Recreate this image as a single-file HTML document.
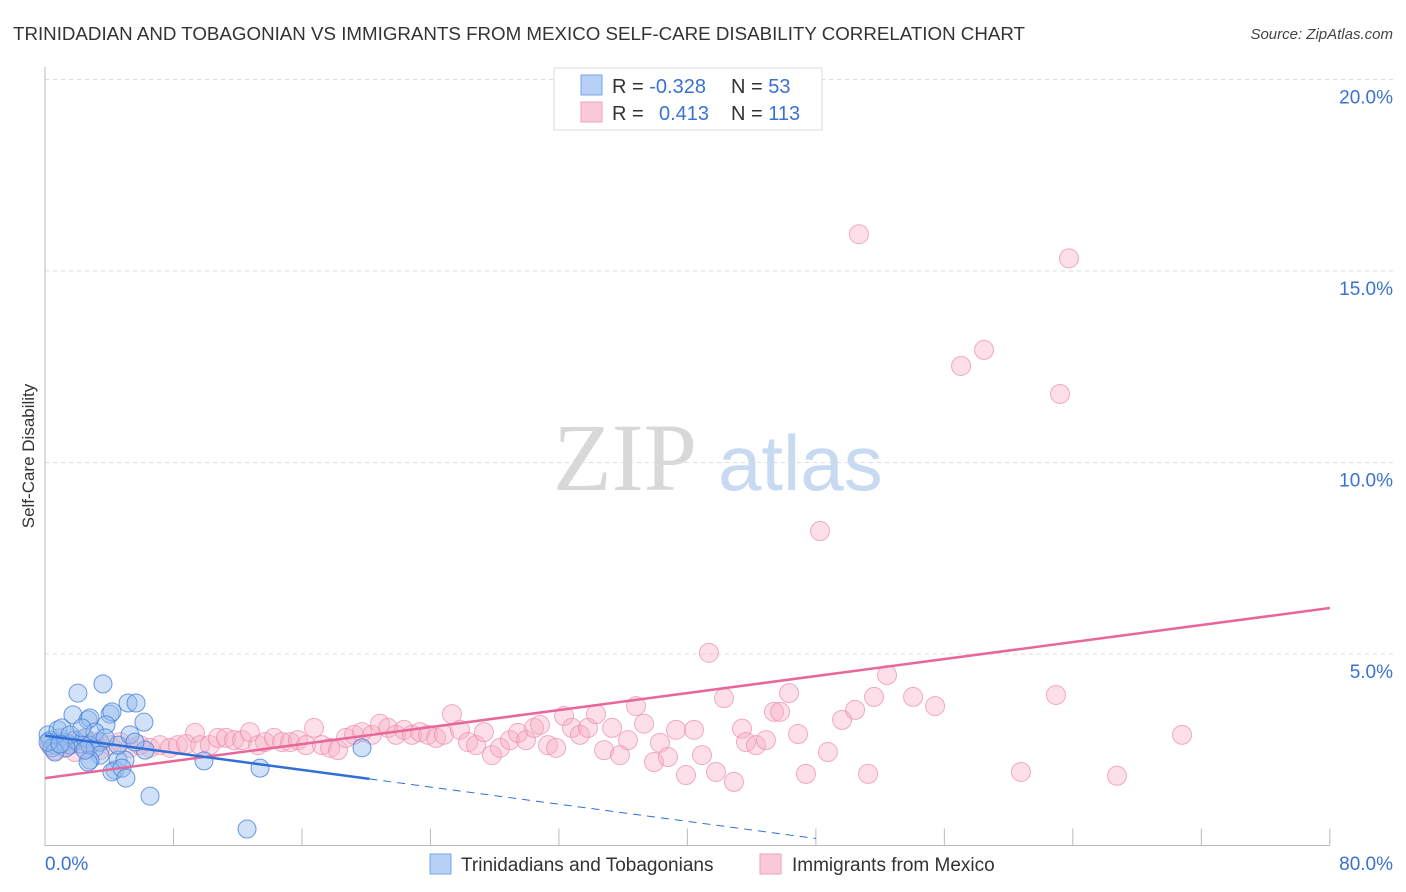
<!DOCTYPE html>
<html><head><meta charset="utf-8"><style>
body{margin:0;background:#fff;font-family:"Liberation Sans",sans-serif;}
svg{display:block}
</style></head><body>
<svg id="chart" width="1406" height="892" xmlns="http://www.w3.org/2000/svg">
<text x="13" y="40" font-size="18" fill="#333" textLength="1012" lengthAdjust="spacingAndGlyphs">TRINIDADIAN AND TOBAGONIAN VS IMMIGRANTS FROM MEXICO SELF-CARE DISABILITY CORRELATION CHART</text>
<text x="1393" y="39" font-size="15" fill="#444" font-style="italic" text-anchor="end">Source: ZipAtlas.com</text>
<g>
<text x="553" y="490" font-family="Liberation Serif,serif" font-size="96" fill="#d8d8d8">ZIP</text>
<text x="718" y="490" font-size="78" fill="#c8daf2">atlas</text>
</g>
<text transform="translate(34,456) rotate(-90)" font-size="17" fill="#333" text-anchor="middle">Self-Care Disability</text>
<g id="grid"></g>
<g id="axes"></g>
<g id="pts"></g>
<g id="lines"></g>
<g>
<rect x="554" y="68" width="268" height="62" fill="#fff" stroke="#ddd"/>
<rect x="581" y="75" width="21" height="20" fill="#b7d0f5" stroke="#7aa6e6"/>
<rect x="581" y="102" width="21" height="20" fill="#fbcad8" stroke="#f0a0b8"/>
<text x="612" y="93" font-size="20" fill="#333">R = <tspan fill="#3b72d0">-0.328</tspan></text>
<text x="731" y="93" font-size="20" fill="#333">N = <tspan fill="#3b72d0"> 53</tspan></text>
<text x="612" y="120" font-size="20" fill="#333">R = <tspan fill="#3b72d0" x="659">0.413</tspan></text>
<text x="731" y="120" font-size="20" fill="#333">N = <tspan fill="#3b72d0">113</tspan></text>
</g>
<g>
<rect x="430" y="854" width="21" height="20" fill="#b7d0f5" stroke="#7aa6e6"/>
<text x="461" y="871" font-size="19" fill="#333">Trinidadians and Tobagonians</text>
<rect x="760" y="854" width="21" height="20" fill="#fbcad8" stroke="#f0a0b8"/>
<text x="792" y="871" font-size="19" fill="#333">Immigrants from Mexico</text>
</g>
</svg>
<script>
const yTicks=[5,10,15,20];
const yTickLabels=["5.0%","10.0%","15.0%","20.0%"];
const xTickVals=[0,8,16,24,32,40,48,56,64,72,80];
const xEndLabels=["0.0%","80.0%"];
const blueX=[0.31,0.62,0.93,0.19,0.44,1.25,1.56,1.87,2.18,2.49,2.80,3.11,3.42,0.81,1.06,1.74,2.05,2.68,2.80,3.61,4.05,4.17,3.80,5.17,5.67,6.16,3.42,2.80,2.68,4.36,4.55,4.98,4.17,4.79,5.04,6.54,4.55,5.29,6.23,9.90,13.39,12.58,19.74,1.56,1.31,3.11,2.30,0.62,0.19,0.93,2.49,3.74,5.60];
const blueY=[2.75,2.62,2.81,2.89,2.55,2.70,2.62,2.75,2.65,2.81,2.62,2.55,2.70,3.02,3.07,3.41,3.98,3.28,3.33,4.22,3.43,3.49,3.15,3.72,3.72,3.22,2.36,2.23,2.18,1.97,2.23,2.23,1.92,2.02,1.76,1.29,2.62,2.89,2.49,2.21,2.02,0.43,2.55,2.89,2.55,2.96,3.07,2.44,2.70,2.65,2.49,2.81,2.70];
const pinkX=[0.31,0.62,0.93,1.25,1.56,1.87,2.18,2.49,2.80,3.11,3.42,4.05,4.67,5.29,5.92,6.54,7.16,7.78,8.28,8.78,9.34,9.65,10.27,10.77,11.27,11.77,12.27,12.76,13.26,13.70,14.26,14.76,15.26,15.75,16.25,16.75,17.25,17.75,18.24,18.74,19.24,19.74,20.36,20.86,21.36,21.86,22.35,22.85,23.35,23.85,24.35,24.84,25.34,25.84,26.34,26.84,27.33,27.83,28.33,28.95,29.45,29.95,30.45,30.82,31.32,31.82,32.32,32.81,33.31,33.81,34.31,34.81,35.31,35.80,36.30,36.80,37.30,37.92,38.29,38.79,39.29,39.91,40.41,40.91,41.34,41.78,42.28,42.90,43.40,43.65,44.27,44.89,45.39,45.77,46.33,46.89,47.38,48.26,48.75,49.63,50.44,50.68,51.25,51.62,52.43,54.05,55.42,57.04,58.47,60.77,62.95,63.20,63.76,66.75,70.80];
const pinkY=[2.62,2.49,2.70,2.55,2.65,2.44,2.75,2.55,2.62,2.70,2.49,2.62,2.70,2.55,2.62,2.55,2.62,2.55,2.62,2.65,2.94,2.62,2.62,2.81,2.81,2.75,2.75,2.96,2.62,2.70,2.81,2.70,2.70,2.75,2.62,3.07,2.62,2.55,2.49,2.81,2.89,2.96,2.89,3.18,3.07,2.89,3.02,2.89,2.96,2.89,2.81,2.89,3.43,3.02,2.70,2.62,2.96,2.36,2.55,2.75,2.94,2.75,3.07,3.15,2.62,2.55,3.38,3.07,2.89,3.07,3.43,2.49,3.07,2.36,2.75,3.64,3.18,2.18,2.68,2.31,3.02,1.84,3.02,2.36,5.03,1.92,3.85,1.66,3.05,2.70,2.62,2.75,3.49,3.49,3.98,2.91,1.87,8.21,2.44,3.28,3.54,15.96,1.87,3.88,4.45,3.88,3.64,12.52,12.94,1.92,3.93,11.79,15.33,1.82,2.89];
const blueTrend=[2.87,-0.056];
const pinkTrend=[1.76,0.0555];
const NS="http://www.w3.org/2000/svg";
const sx=v=>45+v*16.06, sy=v=>845.5-v*38.3;
function mk(tag,attrs,parent){const e=document.createElementNS(NS,tag);for(const k in attrs)e.setAttribute(k,attrs[k]);parent.appendChild(e);return e;}
const grid=document.getElementById('grid'),axes=document.getElementById('axes'),pts=document.getElementById('pts'),lines=document.getElementById('lines');
yTicks.forEach((t,i)=>{
 const l=mk('line',{x1:45,x2:1393,y1:sy(t),y2:sy(t),stroke:'#ddd','stroke-dasharray':'4,4'},grid);
 
 
 const tx=mk('text',{x:1393,y:sy(t)+24,'font-size':19,fill:'#3b72d0','text-anchor':'end'},grid);
 tx.textContent=yTickLabels[i];
 
 
});
const ax=mk('path',{d:`M45,67 V${sy(0)} H1330`,stroke:'#bbb',fill:'none'},axes);


xTickVals.forEach(v=>{
 if(v===0)return;
 const t=mk('line',{x1:sx(v),x2:sx(v),y1:sy(0),y2:sy(0)-17,stroke:'#bbb'},axes);
 
 
});
const xl0=mk('text',{x:45,y:870,'font-size':19,fill:'#3b72d0'},axes);xl0.textContent=xEndLabels[0];


const xl1=mk('text',{x:1393,y:870,'font-size':19,fill:'#3b72d0','text-anchor':'end'},axes);xl1.textContent=xEndLabels[1];


pinkX.forEach((x,i)=>{
 const c=mk('circle',{cx:sx(x),cy:sy(pinkY[i]),r:9.5,fill:'rgba(248,175,198,0.4)',stroke:'rgba(236,140,170,0.7)','stroke-width':1},pts);
 
 
});
blueX.forEach((x,i)=>{
 const c=mk('circle',{cx:sx(x),cy:sy(blueY[i]),r:9,fill:'rgba(150,188,240,0.45)',stroke:'rgba(70,130,215,0.8)','stroke-width':1},pts);
 
 
});
const by=x=>blueTrend[0]+blueTrend[1]*x, py=x=>pinkTrend[0]+pinkTrend[1]*x;
const pl=mk('line',{x1:sx(0),y1:sy(py(0)),x2:sx(80),y2:sy(py(80)),stroke:'#e8679a','stroke-width':2.5},lines);


const bl=mk('line',{x1:sx(0),y1:sy(by(0)),x2:sx(20.2),y2:sy(by(20.2)),stroke:'#2f6fd6','stroke-width':2.5},lines);


const bd=mk('line',{x1:sx(20.2),y1:sy(by(20.2)),x2:sx(48),y2:sy(by(48)),stroke:'#2f6fd6','stroke-width':1,'stroke-dasharray':'8,6'},lines);


</script>
</body></html>
